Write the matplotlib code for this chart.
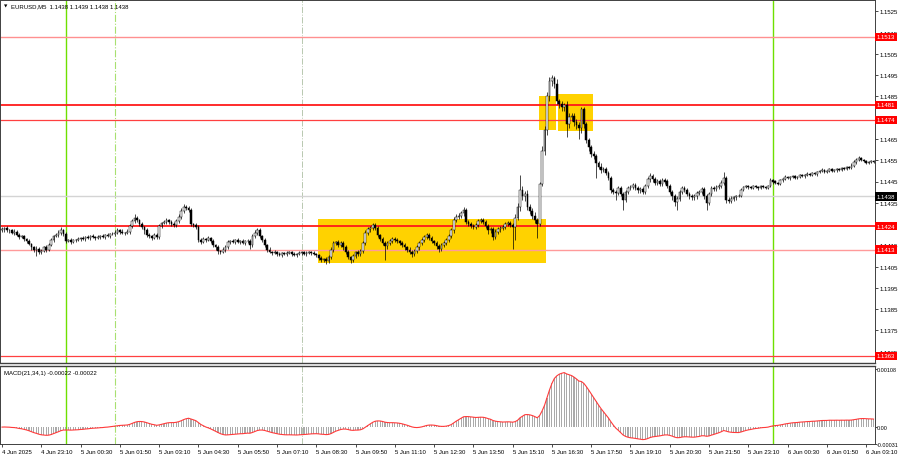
import matplotlib
matplotlib.use("Agg")
import matplotlib.pyplot as plt
import numpy as np
import pandas as pd
from matplotlib.patches import Rectangle

# closes of the M5 bars, in pips above 1.1400 (bar 0 = 4 Jun 21:50)
close_pips = [
    22.5, 23, 22, 22, 21, 21.5, 20, 19, 19.5, 18,
    17, 15.5, 14, 13, 13.5, 12, 12.5, 14, 13, 15,
    17.5, 19.5, 20, 21, 22, 20.5, 17, 17.5, 16.5, 17.5,
    17.5, 18, 18.5, 18, 19, 18.5, 19.5, 19, 18.5, 19,
    19.5, 19, 20, 19.5, 20.5, 20.5, 21, 22, 21.5, 21,
    21, 21.5, 24, 26.5, 28, 27, 25, 23.5, 22, 20,
    19.5, 18.5, 20, 19, 24, 25.5, 26, 27, 26, 25,
    24.5, 26.5, 28.5, 31, 33, 32.5, 31.5, 25, 24.5, 23.5,
    17.5, 16.5, 18, 17.5, 18.5, 17, 15, 14, 12.5, 12,
    13, 14, 16.5, 17, 16.5, 17.5, 16.5, 17, 16, 17,
    17, 15, 19.5, 21, 22, 19.5, 17.5, 15, 13, 12,
    11.5, 12, 11, 10.5, 11.5, 11, 11.5, 12, 11, 10.5,
    11, 11.5, 12, 11, 11.5, 12, 11.5, 11, 10.5, 9,
    8, 8.5, 7.5, 9.5, 13, 16, 16.5, 15, 16, 14,
    12, 9.5, 8, 10, 12, 11, 12.5, 16, 21, 22.5,
    23, 24.5, 23, 20, 18, 16, 14.5, 16, 17, 18,
    17.5, 17, 16, 15, 14, 13, 12, 11, 12.5, 14,
    16, 17.5, 19, 20, 18.5, 17, 16, 14.5, 13.5, 15,
    16, 17.5, 19.5, 22, 27, 28.5, 29, 30, 31.5, 26,
    25, 24, 23.5, 24.5, 26.5, 27, 26, 24, 22, 22.5,
    19, 21.5, 22.5, 23, 23.5, 25, 25.5, 24.5, 23.5, 28,
    33, 41, 38, 39, 33, 31, 29, 27, 25, 44,
    59.5, 69, 85, 92, 93.5, 91, 83, 81.5, 80, 81,
    72, 75.5, 76, 73, 71.5, 70, 79, 72, 64.5, 61,
    58, 57, 53.5, 52, 50.5, 51, 49, 46.5, 41, 40,
    39.5, 42, 39, 36.5, 40, 42, 42.5, 43.5, 42, 41,
    41.5, 40, 43, 46, 47.5, 46, 44.5, 45, 44, 45.5,
    45, 43, 40, 38, 35.5, 37, 40, 42, 41, 39,
    38, 37.5, 38, 39.5, 40, 41.5, 38, 35, 39, 42,
    41.5, 42.5, 43, 44.5, 46.5, 36.5, 36, 37, 37.5, 38,
    38, 41, 42.5, 43, 42.5, 42, 43, 42.5, 42, 43,
    42.5, 42, 43, 45.5, 45, 44.5, 44, 45.5, 46, 47,
    46.5, 47, 47.5, 46.5, 47, 48, 47.5, 48, 48.5, 48,
    49, 48.5, 49.5, 50, 50.5, 49.5, 50, 51, 50, 50.5,
    51, 50.5, 51.5, 51, 52, 51.5, 52.5, 54, 55, 56,
    55, 54.5, 53.5, 54, 54.5, 54,
]
first_open_pips = 22

# upper / lower shadow lengths in pips
wick_up = [
    1, 0.5, 1, 0.5, 0.5, 1, 0.5, 1, 0.5, 0.5,
    0.5, 1, 0.5, 0.5, 1, 0.5, 1, 0.5, 1, 1,
    1, 0.5, 1, 1, 1.5, 0.5, 1, 0.5, 1, 0.5,
    0.5, 1, 0.5, 1, 0.5, 1, 0.5, 1, 0.5, 1,
    0.5, 1, 0.5, 1, 0.5, 1, 1, 1, 0.5, 1,
    0.5, 1, 1, 1, 1.5, 1, 0.5, 1, 0.5, 1,
    1, 0.5, 1, 1, 1, 0.5, 1, 1, 0.5, 1,
    1, 1, 1, 1.5, 1.5, 1, 1, 1, 0.5, 1,
    1, 1, 1, 0.5, 1, 0.5, 1, 0.5, 1, 0.5,
    1, 1, 1, 0.5, 1, 0.5, 1, 0.5, 1, 0.5,
    1, 1, 1, 1, 1, 1, 0.5, 1, 0.5, 1,
    0.5, 1, 0.5, 1, 0.5, 0.5, 1, 0.5, 0.5, 1,
    0.5, 1, 0.5, 0.5, 1, 0.5, 0.5, 1, 0.5, 0.5,
    1, 0.5, 1, 1, 1, 1, 0.5, 1, 1, 1,
    1, 1, 0.5, 1, 0.5, 1, 1, 1, 1, 1,
    1, 1, 1, 1, 0.5, 1, 1, 1, 1, 1,
    1, 1, 0.5, 1, 1, 0.5, 1, 1, 1, 1,
    1, 1, 1, 1, 1, 1, 0.5, 1, 1, 1,
    1, 1, 1, 1, 1.5, 1, 1, 1, 1.5, 1,
    1, 1, 1, 1, 1, 1, 1, 1, 1, 1,
    1, 1, 1, 1, 1, 1, 1, 1, 1, 1.5,
    2, 7, 2, 1.5, 2, 1.5, 1.5, 1.5, 1, 1,
    2, 2, 2, 2, 1.5, 1, 2, 1, 1.5, 1,
    2, 1.5, 1, 1, 1.5, 1.5, 1, 1, 1, 1,
    1, 1.5, 1, 1, 1.5, 1, 1, 1, 1, 1,
    1, 1, 1, 1, 1, 1, 1, 1, 1, 1,
    1, 1, 1, 1, 1.5, 1, 1, 1, 1, 1,
    1, 1, 1, 1, 1, 1, 1, 1, 1, 1,
    1, 1, 1, 1, 1, 1, 1, 1, 1, 1,
    1, 1, 1, 1, 3, 1, 1, 1, 0.5, 0.5,
    1, 1, 0.5, 0.5, 0.5, 0.5, 0.5, 0.5, 0.5, 0.5,
    0.5, 0.5, 0.5, 1, 0.5, 0.5, 0.5, 0.5, 0.5, 1,
    0.5, 0.5, 0.5, 0.5, 0.5, 0.5, 0.5, 0.5, 1, 0.5,
    0.5, 0.5, 0.5, 0.5, 1, 0.5, 0.5, 0.5, 0.5, 0.5,
    0.5, 0.5, 0.5, 0.5, 0.5, 0.5, 1, 1, 1, 1,
    0.5, 0.5, 0.5, 0.5, 0.5, 0.5,
]
wick_dn = [
    0.5, 1, 0.5, 1, 0.5, 1, 0.5, 1, 0.5, 1,
    1, 0.5, 1, 1, 3, 1, 1, 0.5, 1, 0.5,
    0.5, 1, 0.5, 1, 1, 1, 1, 0.5, 1, 0.5,
    1, 0.5, 1, 0.5, 1, 0.5, 1, 0.5, 1, 0.5,
    1, 0.5, 1, 0.5, 1, 0.5, 1, 0.5, 1, 0.5,
    1, 0.5, 1, 1, 1, 1, 1, 1, 1.5, 1,
    1, 1, 0.5, 1, 1, 1, 0.5, 1, 1, 1,
    1, 1, 1, 1, 1, 1, 1, 1, 1, 1,
    1, 1, 0.5, 1, 0.5, 1, 1, 1, 1.5, 1,
    0.5, 1, 0.5, 1, 0.5, 1, 0.5, 1, 0.5, 1,
    1, 1.5, 1, 1, 1, 1, 1, 1, 1, 0.5,
    1, 0.5, 1, 0.5, 1, 0.5, 1, 0.5, 1, 0.5,
    1, 0.5, 1, 0.5, 1, 0.5, 1, 0.5, 1, 1,
    1, 1, 1.5, 1, 1, 1, 1, 1, 1, 1,
    1, 1, 1.5, 1, 1, 1, 1, 1, 1, 1,
    1, 1, 1, 1, 1, 1, 6.5, 1, 1, 1,
    1, 1, 1, 1, 1, 1, 1, 1.5, 1, 1,
    1, 1, 1, 1, 1, 1, 1, 1, 1.5, 1,
    1, 1, 1, 1, 1, 1, 1, 1, 1, 1,
    1, 1, 1, 1, 1, 1, 1, 1, 1.5, 1,
    1.5, 1, 1, 1, 1, 1, 1, 1, 10, 6,
    1, 2, 1.5, 2, 1.5, 1.5, 1.5, 1.5, 6.5, 1,
    1, 2, 2, 2, 2, 2, 1.5, 2, 2, 2,
    6, 2, 2, 2, 2, 5, 2, 2, 1.5, 1.5,
    1.5, 1.5, 7, 1, 1.5, 1, 1, 1, 1.5, 1,
    3, 1, 1, 5, 1, 1, 1, 1, 1, 1.5,
    1.5, 1, 1, 1, 1, 1, 1, 1, 1, 1,
    1, 1, 1, 1.5, 2, 4, 1, 1, 1, 1,
    1, 1, 1, 1, 1, 1, 1, 3.5, 1, 1,
    1, 1, 1, 1, 1, 1.5, 1, 1, 1, 1,
    0.5, 0.5, 0.5, 0.5, 1, 0.5, 0.5, 0.5, 1, 0.5,
    0.5, 0.5, 0.5, 0.5, 1, 0.5, 0.5, 0.5, 0.5, 0.5,
    0.5, 1, 0.5, 0.5, 0.5, 0.5, 0.5, 1, 0.5, 0.5,
    0.5, 0.5, 1, 0.5, 0.5, 0.5, 0.5, 0.5, 0.5, 0.5,
    1, 0.5, 0.5, 0.5, 0.5, 0.5, 0.5, 0.5, 1, 0.5,
    0.5, 0.5, 0.5, 0.5, 0.5, 0.5,
]

# horizontal levels (price, colour, width)
levels = [1.1513, 1.1481, 1.1474, 1.1424, 1.1413, 1.1363]
level_colors = ["#ff9090", "#ff1a1a", "#ff4040", "#ff1a1a", "#ff9a9a", "#ff4040"]
level_widths = [1.0, 1.3, 0.9, 1.3, 1.0, 0.9]
last_price = 1.1438

# yellow boxes: bar from, bar to, price low, price high
boxes = [
    (128.7, 221.6, 1.14066, 1.14272),
    (218.7, 225.7, 1.14694, 1.14853),
    (226.5, 240.7, 1.14686, 1.14862),
]

# vertical separators (bar index)
day_lines = [26, 314]
green_dash = [46]
gray_dash = [122]

# time labels: bar index and text
time_bars = [0, 16, 32, 48, 64, 80, 96, 112, 128, 144, 160, 176, 192,
             208, 224, 240, 256, 272, 288, 304, 320, 336, 352]
time_labels = ["4 Jun 2025", "4 Jun 23:10", "5 Jun 00:30", "5 Jun 01:50",
               "5 Jun 03:10", "5 Jun 04:30", "5 Jun 05:50", "5 Jun 07:10",
               "5 Jun 08:30", "5 Jun 09:50", "5 Jun 11:10", "5 Jun 12:30",
               "5 Jun 13:50", "5 Jun 15:10", "5 Jun 16:30", "5 Jun 17:50",
               "5 Jun 19:10", "5 Jun 20:30", "5 Jun 21:50", "5 Jun 23:10",
               "6 Jun 00:30", "6 Jun 01:50", "6 Jun 03:10"]

# scale labels (1.1475 / 1.1425 sit under the level tags)
price_ticks = [1.1365, 1.1375, 1.1385, 1.1395, 1.1405, 1.1415, 1.1435,
               1.1445, 1.1455, 1.1465, 1.1485, 1.1495, 1.1505, 1.1515, 1.1525]
macd_ticks = [0.00108, 0.0, -0.00031]
macd_labels = ["0.00108", "0.00", "-0.00031"]

plt.rcParams["font.family"] = ["Liberation Sans", "DejaVu Sans"]
FS = 4.3
W, H = 900, 460
SPINE = "#404040"


def px_box(x0, y0, x1, y1):
    return [x0 / W, 1 - y1 / H, (x1 - x0) / W, (y1 - y0) / H]


close = 1.14 + np.array(close_pips) / 10000
opens = np.concatenate([[1.14 + first_open_pips / 10000], close[:-1]])
highs = np.maximum(opens, close) + np.array(wick_up) / 10000
lows = np.minimum(opens, close) - np.array(wick_dn) / 10000
idx = np.arange(len(close))

fig = plt.figure(figsize=(9, 4.6), dpi=100)
ax = fig.add_axes(px_box(0, 1, 875, 364))
axm = fig.add_axes(px_box(0, 366.5, 875, 445), sharex=ax)

# price panel
for x0, x1, p0, p1 in boxes:
    ax.add_patch(Rectangle((x0, p0), x1 - x0, p1 - p0, color="#ffd200", zorder=1, lw=0))
ax.axhline(last_price, color="#d4d4d4", lw=1.0, zorder=1.5)
for lv, c, lw in zip(levels, level_colors, level_widths):
    ax.axhline(lv, color=c, lw=lw, zorder=2)

bull = close >= opens
ax.vlines(idx, lows, highs, color="black", lw=0.5, zorder=3)
ax.bar(idx, np.abs(close - opens) + 1e-7, bottom=np.minimum(opens, close), width=0.7,
       color=np.where(bull, "white", "black"), edgecolor="black", linewidth=0.35, zorder=4)

for a in (ax, axm):
    for b in day_lines:
        a.axvline(b, color="#6ee000", lw=1.0, zorder=0.5)
    for b in green_dash:
        a.axvline(b, color="#a8e070", lw=0.8, ls="-.", zorder=0.5)
    for b in gray_dash:
        a.axvline(b, color="#b8c8b0", lw=0.7, ls="-.", zorder=0.5)

ax.set_xlim(-0.815, 355.6)
ax.set_ylim(1.13597, 1.15303)
ax.yaxis.tick_right()
ax.set_yticks(price_ticks)
ax.set_yticklabels([f"{t:.4f}" for t in price_ticks])
ax.tick_params(axis="y", length=2, width=0.5, pad=1.5, labelsize=FS, colors="black")
ax.tick_params(axis="x", bottom=False, labelbottom=False)

for lv in levels:
    ax.text(1 + 2 / 875, lv, f"{lv:.4f}", transform=ax.get_yaxis_transform(), ha="left",
            va="center", color="white", fontsize=FS, zorder=6, clip_on=False,
            bbox=dict(boxstyle="square,pad=0.3", fc="#ff0000", ec="none"))
ax.text(1 + 2 / 875, last_price, f"{last_price:.4f}", transform=ax.get_yaxis_transform(),
        ha="left", va="center", color="white", fontsize=FS, zorder=6, clip_on=False,
        bbox=dict(boxstyle="square,pad=0.3", fc="black", ec="none"))

# MACD(21,34,1)
s = pd.Series(close)
macd = (s.ewm(span=21, adjust=False).mean() - s.ewm(span=34, adjust=False).mean()).values
axm.bar(idx, macd, width=0.45, color="#aaaaaa", zorder=2)
axm.plot(idx, macd, color="#ff3a3a", lw=0.8, zorder=3)
axm.set_ylim(-0.000317, 0.001155)
axm.yaxis.tick_right()
axm.set_yticks(macd_ticks)
axm.set_yticklabels(macd_labels)
axm.tick_params(axis="y", length=1.2, width=0.5, pad=0.4, labelsize=3.9)
axm.set_xticks(time_bars)
axm.set_xticklabels(time_labels)
axm.tick_params(axis="x", length=2.5, width=0.5, pad=1.2, labelsize=FS)
for lab in axm.get_xticklabels():
    lab.set_ha("left")

for a in (ax, axm):
    for sp in a.spines.values():
        sp.set_color(SPINE)
        sp.set_linewidth(0.7)
ax.spines["bottom"].set_linewidth(1.0)
axm.spines["top"].set_linewidth(1.0)

fig.text(4 / W, 1 - 7 / H, "▼", fontsize=3.2, va="center", family="DejaVu Sans")
fig.text(11 / W, 1 - 7 / H, "EURUSD,M5  1.1438 1.1439 1.1438 1.1438", fontsize=FS, va="center")
fig.text(4 / W, 1 - 374 / H, "MACD(21,34,1) -0.00022 -0.00022", fontsize=FS, va="center")

fig.savefig("out.png", dpi=100)
